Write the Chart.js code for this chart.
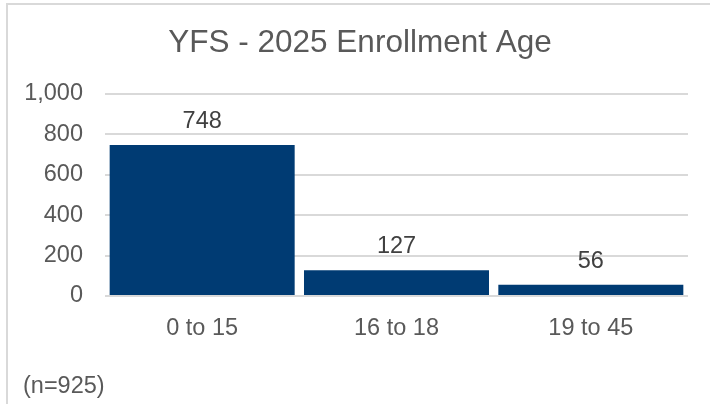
<!DOCTYPE html>
<html>
<head>
<meta charset="utf-8">
<script src="https://cdn.jsdelivr.net/npm/chart.js@4"></script>
<style>
  html, body { margin: 0; padding: 0; background: #fff; overflow: hidden; }
  #wrap { position: relative; width: 710px; height: 404px; }
  #frame { position: absolute; left: 6px; top: 3px; width: 800px; height: 500px; border: 2px solid #d9d9d9; }
  #chart { position: absolute; left: 0; top: 0; }
</style>
</head>
<body>
<div id="wrap">
  <div id="frame"></div>
  <canvas id="chart" width="710" height="404"></canvas>
</div>
<script>
const FONT = '"Liberation Sans", Arial, sans-serif';
const TEXT_GREY = '#595959';

const titleText = 'YFS - 2025 Enrollment Age';
const noteText = '(n=925)';
const ageGroups = ['0 to 15', '16 to 18', '19 to 45'];
const enrollment = [748, 127, 56];
const yTicks = [0, 200, 400, 600, 800, 1000];

// title, footnote and value labels drawn on the canvas
const textPlugin = {
  id: 'textPlugin',
  afterDraw(chart) {
    const ctx = chart.ctx;
    ctx.save();
    ctx.fillStyle = TEXT_GREY;
    ctx.textBaseline = 'alphabetic';
    ctx.textAlign = 'center';
    ctx.font = '31.5px ' + FONT;
    ctx.fillText(titleText, 360, 52);

    ctx.textAlign = 'left';
    ctx.font = '23.5px ' + FONT;
    ctx.fillText(noteText, 23, 393);

    ctx.fillStyle = '#404040';
    ctx.textAlign = 'center';
    const meta = chart.getDatasetMeta(0);
    meta.data.forEach((bar, i) => {
      ctx.fillText(enrollment[i].toLocaleString('en-US'), bar.x, bar.y - 17);
    });
    ctx.restore();
  }
};

new Chart(document.getElementById('chart'), {
  type: 'bar',
  data: {
    labels: ageGroups,
    datasets: [{
      data: enrollment,
      backgroundColor: '#003b73',
      borderWidth: 0,
      barPercentage: 0.952,
      categoryPercentage: 1
    }]
  },
  options: {
    responsive: false,
    animation: false,
    layout: { padding: { top: 94, right: 22, left: 0, bottom: 0 } },
    plugins: { legend: { display: false }, tooltip: { enabled: false } },
    scales: {
      x: {
        grid: { display: false },
        border: { display: false },
        ticks: { color: TEXT_GREY, font: { family: FONT, size: 23.5 }, padding: 10 },
        afterFit(scale) { scale.height = 108; }
      },
      y: {
        min: 0,
        max: 1000,
        afterBuildTicks(scale) { scale.ticks = yTicks.map(v => ({ value: v })); },
        grid: { color: '#d9d9d9', lineWidth: 2, drawTicks: false },
        border: { display: false },
        ticks: {
          color: TEXT_GREY,
          font: { family: FONT, size: 23.5 },
          padding: 22,
          callback: v => v.toLocaleString('en-US')
        },
        afterFit(scale) { scale.width = 105; }
      }
    }
  },
  plugins: [textPlugin]
});
</script>
</body>
</html>
